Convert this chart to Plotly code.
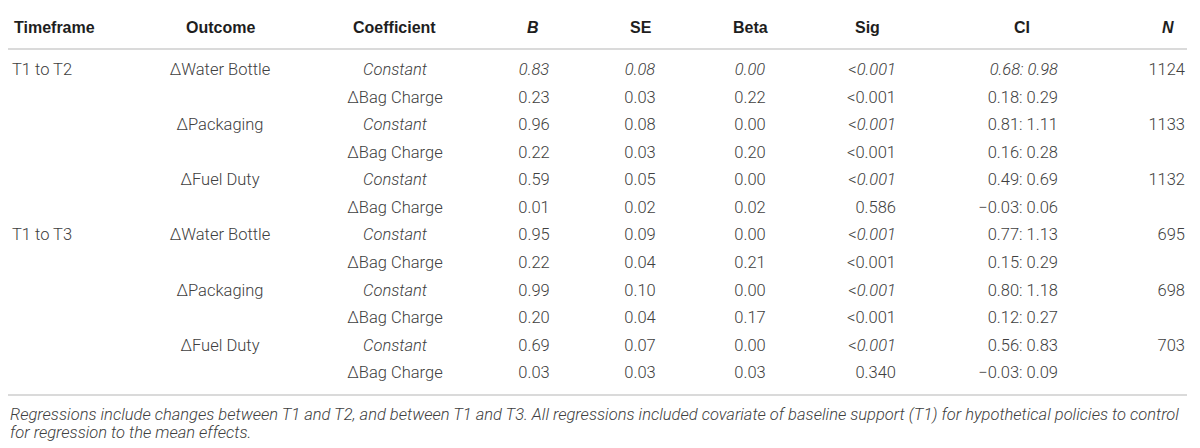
import plotly.graph_objects as go

# table values
timeframe = ["T1 to T2", "", "", "", "", "", "T1 to T3", "", "", "", "", ""]
outcome = ["ΔWater Bottle", "", "ΔPackaging", "", "ΔFuel Duty", "",
           "ΔWater Bottle", "", "ΔPackaging", "", "ΔFuel Duty", ""]
coefficient = ["Constant", "ΔBag Charge"] * 6
b_vals = [0.83, 0.23, 0.96, 0.22, 0.59, 0.01, 0.95, 0.22, 0.99, 0.20, 0.69, 0.03]
se_vals = [0.08, 0.03, 0.08, 0.03, 0.05, 0.02, 0.09, 0.04, 0.10, 0.04, 0.07, 0.03]
beta_vals = [0.00, 0.22, 0.00, 0.20, 0.00, 0.02, 0.00, 0.21, 0.00, 0.17, 0.00, 0.03]
sig_vals = ["<0.001", "<0.001", "<0.001", "<0.001", "<0.001", "0.586",
            "<0.001", "<0.001", "<0.001", "<0.001", "<0.001", "0.340"]
ci_low = [0.68, 0.18, 0.81, 0.16, 0.49, -0.03, 0.77, 0.15, 0.80, 0.12, 0.56, -0.03]
ci_high = [0.98, 0.29, 1.11, 0.28, 0.69, 0.06, 1.13, 0.29, 1.18, 0.27, 0.83, 0.09]
n_vals = [1124, None, 1133, None, 1132, None, 695, None, 698, None, 703, None]

headers = ["Timeframe", "Outcome", "Coefficient", "<i>B</i>", "SE", "Beta",
           "Sig", "CI", "<i>N</i>"]
caption = ["Regressions include changes between T1 and T2, and between T1 and T3. "
           "All regressions included covariate of baseline support (T1) for "
           "hypothetical policies to control",
           "for regression to the mean effects."]

# page has an 8px body margin, so the figure is drawn 8px in from the corner
PAGE_W, PAGE_H, OFF = 1200, 448, 8
W, H = PAGE_W - OFF, PAGE_H - OFF
ROW0, PITCH = 71, 27.55  # pixel centre of first body row and row pitch


def py(px):
    # page pixel (from top) -> paper y
    return 1 - (px - OFF) / H


def num(v):
    return f"{v:.2f}".replace("-", "\u2212")


def ital(s, on):
    return f"<i>{s}</i>" if on else s


rows = list(range(len(b_vals)))
first = [i == 0 for i in rows]  # first row is italic in the source
const = [c == "Constant" for c in coefficient]

col_coef = [ital(c, k) for c, k in zip(coefficient, const)]
col_b = [ital(num(v), f) for v, f in zip(b_vals, first)]
col_se = [ital(num(v), f) for v, f in zip(se_vals, first)]
col_beta = [ital(num(v), f) for v, f in zip(beta_vals, first)]
col_sig = ["&lt;" + ital(s[1:], k) if s.startswith("<") else s
           for s, k in zip(sig_vals, const)]
col_ci = [ital(num(lo) + ": " + num(hi), f)
          for lo, hi, f in zip(ci_low, ci_high, first)]
col_n = ["" if v is None else str(v) for v in n_vals]

# (cells, body anchor x, body text position, header anchor x, header anchor)
columns = [
    (timeframe, 12, "middle right", 12, "left"),
    (outcome, 220, "middle center", 220, "center"),
    (col_coef, 395, "middle center", 394, "center"),
    (col_b, 534, "middle center", 533, "center"),
    (col_se, 640, "middle center", 641, "center"),
    (col_beta, 750, "middle center", 750, "center"),
    (col_sig, 896, "middle left", 867, "center"),
    (col_ci, 1058, "middle left", 1022, "center"),
    (col_n, 1185, "middle left", 1168, "center"),
]

body_font = dict(family="Roboto, Liberation Sans, Arial", size=16.5,
                 color="#404040", weight=300)
head_font = dict(family="Liberation Sans, Arial", size=16, color="#1e1e1e")

fig = go.Figure()
for cells, x, pos, hx, hanchor in columns:
    fig.add_trace(go.Scatter(
        x=[x] * len(cells), y=rows, text=cells, mode="text",
        textposition=pos, textfont=body_font, hoverinfo="skip",
        showlegend=False, cliponaxis=False,
    ))

for (cells, x, pos, hx, hanchor), h in zip(columns, headers):
    fig.add_annotation(text=f"<b>{h}</b>", x=hx, xref="x", y=py(28), yref="paper",
                       xanchor=hanchor, yanchor="middle", showarrow=False,
                       font=head_font)

rule = dict(color="#dadada", width=2)
for y_px in (6.5, 49, 395):
    fig.add_shape(type="line", xref="x", yref="paper",
                  x0=OFF, x1=1187, y0=py(y_px), y1=py(y_px), line=rule)

cap_font = dict(family="Roboto, Liberation Sans, Arial", size=16.5,
                color="#404040", weight=300, style="italic")
for line, y_px in zip(caption, (414, 432)):
    fig.add_annotation(text=line, x=OFF, xref="x", y=py(y_px), yref="paper",
                       xanchor="left", yanchor="middle", showarrow=False,
                       font=cap_font)

fig.update_xaxes(range=[OFF, PAGE_W], visible=False, fixedrange=True)
fig.update_yaxes(range=[(PAGE_H - ROW0) / PITCH, (OFF - ROW0) / PITCH],
                 visible=False, fixedrange=True)
fig.update_layout(width=W, height=H, margin=dict(l=0, r=0, t=0, b=0),
                  paper_bgcolor="white", plot_bgcolor="white")

fig.write_html("out.html")
